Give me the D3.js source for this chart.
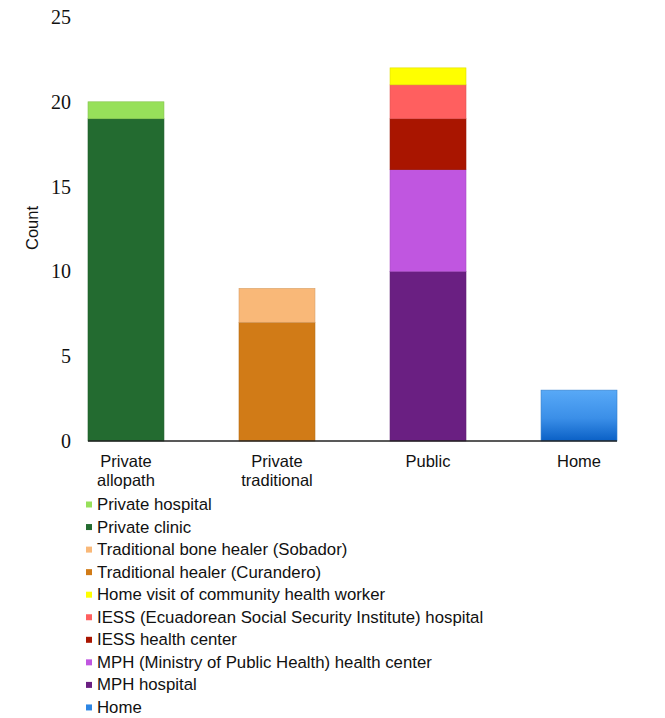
<!DOCTYPE html>
<html>
<head>
<meta charset="utf-8">
<script src="https://cdn.jsdelivr.net/npm/d3@7"></script>
<style>
  body { margin: 0; background: #fff; }
  .tick_text { font-family: "Liberation Serif", "Times New Roman", serif; font-size: 20px; fill: #111; }
  .cat_text, .axis_text { font-family: "Liberation Sans", Arial, sans-serif; font-size: 16.5px; fill: #111; }
  .legend_text { font-family: "Liberation Sans", Arial, sans-serif; font-size: 16.8px; fill: #111; }
</style>
</head>
<body>
<div class="d3_content"></div>
<script>
// chart data
const categories = ["Private allopath", "Private traditional", "Public", "Home"];
const category_lines = [["Private", "allopath"], ["Private", "traditional"], ["Public"], ["Home"]];

// legend order (top to bottom); stack order is the reverse
const series_names = [
  "Private hospital",
  "Private clinic",
  "Traditional bone healer (Sobador)",
  "Traditional healer (Curandero)",
  "Home visit of community health worker",
  "IESS (Ecuadorean Social Security Institute) hospital",
  "IESS health center",
  "MPH (Ministry of Public Health) health center",
  "MPH hospital",
  "Home"
];
// values per category: [Private allopath, Private traditional, Public, Home]
const private_hospital = [1, 0, 0, 0];
const private_clinic   = [19, 0, 0, 0];
const sobador          = [0, 2, 0, 0];
const curandero        = [0, 7, 0, 0];
const home_visit       = [0, 0, 1, 0];
const iess_hospital    = [0, 0, 2, 0];
const iess_center      = [0, 0, 3, 0];
const mph_center       = [0, 0, 6, 0];
const mph_hospital     = [0, 0, 10, 0];
const home             = [0, 0, 0, 3];
const series_values = [private_hospital, private_clinic, sobador, curandero, home_visit,
                       iess_hospital, iess_center, mph_center, mph_hospital, home];
const series_colors = ["#97e05a", "#236b30", "#f9b878", "#d17b17", "#ffff00",
                       "#ff5f5f", "#a91500", "#c056e0", "#6a1f82", "#3d92ea"];
const y_ticks = [0, 5, 10, 15, 20, 25];

// frame
const frame = { width: 665, height: 718, left: 88, right: 617, top: 17, bottom: 441 };

// table for d3.stack
const table = categories.map((c, i) => {
  const row = { category: c };
  series_names.forEach((s, j) => { row[s] = series_values[j][i]; });
  return row;
});
const stack_keys = series_names.slice().reverse();
const stacked = d3.stack().keys(stack_keys)(table);
const color = d3.scaleOrdinal(series_names, series_colors);

const x = d3.scaleBand().domain(categories).range([frame.left, frame.right])
  .paddingInner(0.497).paddingOuter(0);
const y = d3.scaleLinear().domain([0, 25]).range([frame.bottom, frame.top]);

const svg = d3.select(".d3_content").append("svg")
  .attr("width", frame.width)
  .attr("height", frame.height);

// gradient for the Home bar
const defs = svg.append("defs");
const grad = defs.append("linearGradient").attr("id", "home_grad")
  .attr("x1", 0).attr("y1", 0).attr("x2", 0).attr("y2", 1);
grad.append("stop").attr("offset", "0%").attr("stop-color", "#58a9f7");
grad.append("stop").attr("offset", "55%").attr("stop-color", "#3b8fe8");
grad.append("stop").attr("offset", "100%").attr("stop-color", "#0a60c6");

// y axis (labels only)
const y_axis = svg.append("g")
  .attr("transform", `translate(${frame.left}, 0)`)
  .call(d3.axisLeft(y).tickValues(y_ticks).tickSize(0).tickPadding(17));
y_axis.select(".domain").remove();
y_axis.selectAll("text").attr("class", "tick_text").attr("font-size", null).attr("font-family", null);

// bars
svg.append("g").selectAll("g")
  .data(stacked)
  .join("g")
  .each(function(layer) {
    const key = layer.key;
    d3.select(this).selectAll("rect")
      .data(layer.filter(d => d[1] - d[0] > 0))
      .join("rect")
      .attr("x", d => x(d.data.category))
      .attr("width", x.bandwidth())
      .attr("y", d => y(d[1]))
      .attr("height", d => y(d[0]) - y(d[1]))
      .style("fill", key === "Home" ? "url(#home_grad)" : color(key))
      .style("stroke", d3.color(color(key)).darker(0.4))
      .style("stroke-width", 0.6);
  });

// x axis line
svg.append("line")
  .attr("x1", frame.left).attr("x2", frame.right)
  .attr("y1", frame.bottom).attr("y2", frame.bottom)
  .attr("stroke", "#222").attr("stroke-width", 1.5);

// category labels
svg.append("g").selectAll("text")
  .data(categories)
  .join("text")
  .attr("class", "cat_text")
  .attr("text-anchor", "middle")
  .attr("x", d => x(d) + x.bandwidth() / 2)
  .attr("y", 467)
  .each(function(d, i) {
    d3.select(this).selectAll("tspan")
      .data(category_lines[i])
      .join("tspan")
      .attr("x", x(d) + x.bandwidth() / 2)
      .attr("dy", (t, k) => k === 0 ? 0 : 19)
      .text(t => t);
  });

// y axis title
svg.append("text").text("Count")
  .attr("class", "axis_text")
  .attr("transform", "translate(38, 228) rotate(-90)")
  .attr("text-anchor", "middle");

// legend
const legend = svg.append("g").selectAll("g")
  .data(series_names)
  .join("g")
  .attr("transform", (d, i) => `translate(86, ${510 + i * 22.55})`);
legend.append("rect")
  .attr("x", 0).attr("y", -8.5)
  .attr("width", 6).attr("height", 6)
  .style("fill", d => d === "Home" ? "#2d86e4" : color(d));
legend.append("text")
  .attr("class", "legend_text")
  .attr("x", 11).attr("y", 0)
  .text(d => d);
</script>
</body>
</html>
